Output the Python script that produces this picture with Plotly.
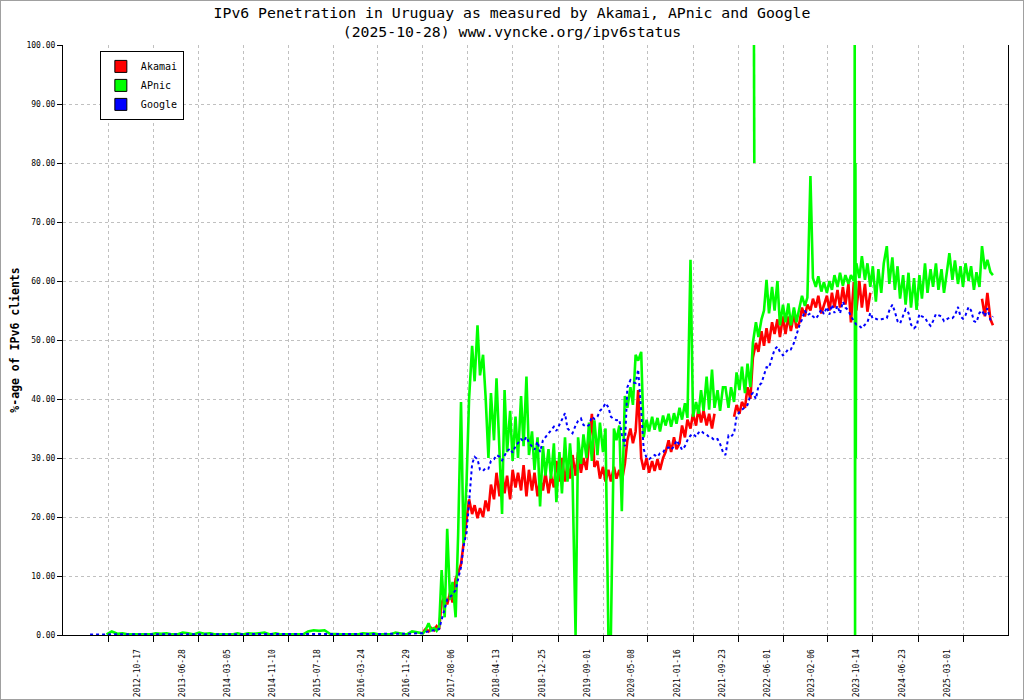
import plotly.graph_objects as go
import pandas as pd

# sampling dates (monthly before the take-off, twice a month after)
early_dates = pd.date_range("2011-11-01", "2016-11-01", freq="MS")
late_dates = pd.date_range("2016-12-01", "2025-08-15", freq="SMS")

# Google, % of IPv6 clients
google_early = [
    0.1, 0.1, 0.1, 0.1, 0.1, 0.1, 0.1, 0.1, 0.1, 0.1, 0.1, 0.1, 0.1, 0.1,
    0.1, 0.1, 0.1, 0.1, 0.1, 0.1, 0.1, 0.1, 0.1, 0.1, 0.1, 0.1,
    0.1, 0.1, 0.1, 0.1, 0.1, 0.1, 0.1, 0.1, 0.1, 0.1, 0.1, 0.1,
    0.1, 0.1, 0.1, 0.1, 0.1, 0.1, 0.1, 0.1, 0.1, 0.1, 0.1, 0.1,
    0.1, 0.1, 0.1, 0.1, 0.1, 0.1, 0.1, 0.2, 0.2, 0.2, 0.3,
]
google_late = [
    0.3, 0.5, 0.6, 0.8, 0.8, 0.9, 1.0, 2.6, 4.5, 6.0,
    6.4, 7.0, 7.6, 9.5, 11.5, 15.0, 17.5, 22.5, 29.0, 30.2,
    29.8, 28.0, 27.8, 28.3, 28.2, 29.5, 29.8, 30.5, 30.2, 29.6,
    30.5, 31.2, 31.6, 30.9, 32.0, 32.5, 33.2, 32.8, 33.6, 32.6,
    32.0, 31.4, 32.8, 31.0, 33.0, 33.5, 34.2, 34.8, 35.3, 34.6,
    35.8, 36.5, 37.6, 35.0, 34.6, 34.2, 35.5, 36.3, 36.7, 35.6,
    35.3, 35.6, 37.0, 36.6, 37.0, 38.0, 38.5, 39.3, 38.6, 37.0,
    36.6, 36.4, 36.5, 34.0, 32.0, 42.0, 43.2, 42.8, 42.7, 45.0,
    38.0, 31.5, 30.0, 29.8, 30.2, 30.5, 30.2, 30.8, 31.0, 31.6,
    31.8, 31.4, 32.0, 33.0, 32.2, 31.4, 32.0, 33.0, 33.8, 34.1,
    33.6, 34.3, 34.6, 34.2, 34.0, 33.5, 33.4, 33.0, 33.2, 32.4,
    31.0, 30.5, 33.8, 33.6, 34.2, 37.0, 37.8, 38.2, 38.6, 39.0,
    40.6, 41.0, 40.0, 42.2, 42.7, 44.2, 45.4, 45.3, 47.0, 48.4,
    48.9, 48.0, 47.4, 47.8, 48.5, 48.4, 49.5, 51.0, 52.5, 53.5,
    55.0, 54.2, 54.5, 54.0, 53.6, 54.2, 55.2, 54.4, 55.6, 54.3,
    56.0, 54.6, 55.8, 54.5, 56.5, 55.5, 55.0, 54.0, 53.3, 52.6,
    52.4, 52.0, 52.6, 53.0, 54.6, 53.6, 53.6, 53.4, 53.5, 53.6,
    53.7, 55.0, 56.0, 54.8, 53.2, 52.8, 54.0, 55.2, 54.6, 52.6,
    52.0, 52.4, 54.4, 54.0, 53.8, 53.0, 52.4, 53.2, 54.4, 54.2,
    54.0, 53.2, 53.5, 53.8, 53.7, 54.2, 55.6, 54.0, 53.6, 54.2,
    55.6, 55.0, 53.2, 53.0, 54.6, 55.0, 54.0, 55.4, 53.4, 54.0,
]

# Akamai (only from Dec 2016, gaps where no data)
akamai_late = [
    0.5, 1.0, 0.6, 1.2, 0.8, 1.5, 1.0, 5.5, 6.5, 5.2,
    7.2, 5.5, 9.5, 10.5, 12.0, 15.5, 19.5, 23.0, 20.5, 22.0,
    19.8, 21.5, 20.0, 22.8, 21.0, 25.5, 23.0, 27.5, 23.5, 28.0,
    24.0, 27.0, 23.0, 28.0, 25.0, 27.5, 24.5, 28.8, 23.5, 28.0,
    24.5, 27.5, 23.5, 26.5, 24.5, 27.5, 24.0, 27.0, 25.0, 29.5,
    26.0, 30.0, 26.0, 29.0, 26.5, 30.5, 27.0, 31.0, 27.5, 30.0,
    28.0, 32.0, 37.5, 28.5, 29.5, 26.5, 28.5, 26.0, 28.0, 26.0,
    28.5, 26.5, 28.0, 26.0, 29.0, 33.0, 35.0, 32.5, 34.5, 41.5,
    30.0, 28.0, 30.0, 27.5, 29.5, 27.8, 29.8, 28.0, 30.0, 31.0,
    33.0, 31.0, 33.5, 31.5, 32.5, 35.5, 33.5, 36.5, 35.0, 37.5,
    35.5, 38.5, 36.0, 38.0, 35.5, 37.5, 35.0, 37.5, None, None,
    None, None, None, None, 37.0, 39.0, 37.5, 39.5, 38.5, 42.0,
    40.0, 47.0, 49.5, 48.0, 51.5, 49.0, 52.0, 49.5, 53.0, 51.0,
    53.5, 50.5, 54.0, 51.0, 54.0, 51.5, 54.5, 52.0, 53.0, 55.5,
    54.0, 56.0, 55.0, 57.0, 55.5, 57.5, 54.5, 56.0, 57.5, 55.0,
    58.0, 55.5, 58.5, 55.5, 59.0, 56.0, 59.5, 53.0, 59.8, 55.0,
    60.0, 55.5, 59.5, 54.8, 58.0, None, None, None, None, None,
    None, None, None, None, None, None, None, None, None, None,
    None, None, None, None, None, None, None, None, None, None,
    None, None, None, None, None, None, None, None, None, None,
    None, None, None, None, None, 57.0, 54.0, 58.0, 53.5, 52.5,
]

# APnic
apnic_early = [
    None, None, None, 0.1, 0.6, 0.2, 0.3, 0.1, 0.1, 0.1, 0.1, 0.1, 0.3, 0.2,
    0.3, 0.1, 0.1, 0.4, 0.3, 0.1, 0.4, 0.2, 0.3, 0.1, 0.1, 0.1,
    0.1, 0.3, 0.1, 0.3, 0.2, 0.3, 0.4, 0.1, 0.3, 0.1, 0.1, 0.1,
    0.1, 0.1, 0.6, 0.8, 0.7, 0.8, 0.2, 0.1, 0.1, 0.1, 0.1, 0.1,
    0.3, 0.2, 0.3, 0.1, 0.1, 0.1, 0.4, 0.2, 0.1, 0.6, 0.4,
]
apnic_late = [
    0.3, 0.8, 2.0, 0.8, 1.2, 0.7, 1.4, 11.0, 3.0, 18.0,
    6.0, 9.0, 3.0, 17.0, 39.5, 15.5, 26.0, 40.0, 49.0, 43.0,
    52.5, 44.0, 47.5, 40.5, 30.0, 41.0, 33.0, 43.5, 32.0, 20.5,
    41.5, 31.0, 38.0, 29.5, 37.0, 30.0, 40.5, 32.0, 43.8, 30.5,
    34.5, 28.0, 33.5, 21.8, 32.0, 27.0, 31.5, 26.5, 32.5, 22.5,
    31.0, 24.0, 33.5, 26.0, 32.5, 27.0, 0.0, 33.5, 29.0, 34.0,
    30.0, 36.0, 29.5, 36.4, 30.5, 36.0, 31.0, 35.0, 0.0, 0.0,
    35.0, 33.0, 35.5, 21.0, 40.5, 38.5, 42.0, 39.0, 47.5, 46.5,
    48.0, 33.5, 36.5, 34.5, 37.0, 34.8, 36.8, 34.5, 37.2, 35.5,
    37.5, 35.3, 37.6, 35.8, 38.5, 36.5, 39.3, 36.8, 63.6, 37.0,
    39.5, 37.5, 41.5, 38.0, 43.8, 38.2, 45.0, 38.5, 41.5, 38.0,
    42.0, 42.0, 38.5, 42.0, 39.5, 44.5, 41.5, 45.5, 41.0, 46.0,
    42.0, 49.5, 53.0, 50.5, 53.5, 55.0, 60.2, 54.5, 59.0, 55.0,
    60.0, 52.5, 56.0, 53.0, 56.2, 52.5, 55.5, 53.0, 55.5, 57.5,
    55.8, 57.2, 77.8, 60.5, 59.0, 60.8, 58.2, 59.8, 58.0, 60.0,
    58.5, 61.0, 59.0, 61.4, 59.2, 61.0, 59.5, 61.0, 60.0, 63.0,
    60.5, 64.2, 60.2, 63.0, 59.0, 62.5, 56.5, 62.0, 58.0, 63.0,
    65.9, 59.5, 64.0, 58.5, 62.5, 57.0, 61.0, 56.0, 61.4, 55.5,
    60.5, 55.1, 61.0, 57.0, 63.0, 58.0, 62.0, 59.0, 63.0, 58.5,
    62.0, 58.0, 61.5, 64.7, 60.2, 63.5, 59.5, 62.5, 59.0, 63.0,
    60.0, 62.5, 58.5, 61.5, 59.0, 65.9, 62.0, 63.6, 61.5, 61.0,
]

# isolated APnic outliers
apnic_spike_dates = ["2021-12-21", "2021-12-23", "2021-12-25",
                     "2023-07-04", "2023-07-06", "2023-07-08",
                     "2023-07-10", "2023-07-12", "2023-07-14"]
apnic_spike_vals = [100, 80, None, 60, 100, 0, 80, 30, 60]

tick_dates = ["2012-02-09", "2012-10-17", "2013-06-28", "2014-03-05", "2014-11-10",
              "2015-07-18", "2016-03-24", "2016-11-29", "2017-08-06", "2018-04-13",
              "2018-12-25", "2019-09-01", "2020-05-08", "2021-01-16", "2021-09-23",
              "2022-06-01", "2023-02-06", "2023-10-14", "2024-06-23", "2025-03-01"]
tick_text = [""] + tick_dates[1:]

MONO = "DejaVu Sans Mono"
colors = {"Akamai": "#ff0000", "APnic": "#00ff00", "Google": "#0000ff"}

all_dates = list(early_dates) + list(late_dates)

fig = go.Figure()

# legend entries drawn as little boxes
for name in ["Akamai", "APnic", "Google"]:
    fig.add_trace(go.Bar(x=[None], y=[None], name=name,
                         marker=dict(color=colors[name], line=dict(color="black", width=1))))

fig.add_trace(go.Scatter(x=list(late_dates), y=akamai_late, mode="lines",
                         line=dict(color=colors["Akamai"], width=2.6),
                         showlegend=False, connectgaps=False))
fig.add_trace(go.Scatter(x=all_dates, y=apnic_early + apnic_late, mode="lines",
                         line=dict(color=colors["APnic"], width=2.6),
                         showlegend=False))
fig.add_trace(go.Scatter(x=apnic_spike_dates, y=apnic_spike_vals, mode="lines",
                         line=dict(color=colors["APnic"], width=2.6),
                         showlegend=False, connectgaps=False))
fig.add_trace(go.Scatter(x=all_dates, y=google_early + google_late, mode="lines",
                         line=dict(color=colors["Google"], width=2, dash="dot"),
                         showlegend=False))

fig.update_layout(
    width=1024, height=700,
    margin=dict(l=63, r=16, t=45, b=65, autoexpand=False),
    plot_bgcolor="white", paper_bgcolor="white",
    font=dict(family=MONO, color="black"),
    title=dict(
        text="IPv6 Penetration in Uruguay as measured by Akamai, APnic and Google"
             "<br>(2025-10-28) www.vyncke.org/ipv6status",
        x=0.5, xref="container", xanchor="center",
        y=1 - 18 / 700, yref="container", yanchor="bottom",
        font=dict(family=MONO, size=14.8, color="black"),
        automargin=False,
    ),
    legend=dict(
        x=0.039, y=0.99, xanchor="left", yanchor="top",
        bgcolor="white", bordercolor="black", borderwidth=1,
        font=dict(family=MONO, size=10), tracegroupgap=0, itemwidth=30,
    ),
    showlegend=True,
)

fig.update_xaxes(
    type="date", automargin=False,
    range=["2011-06-03", "2025-11-07"],
    tickvals=tick_dates, ticktext=tick_text,
    tickangle=-90, ticklabelshift=-16, ticklabelstandoff=4,
    tickfont=dict(family=MONO, size=8),
    ticks="outside", ticklen=6, tickcolor="black",
    showline=True, linecolor="black", linewidth=1,
    showgrid=True, gridcolor="#c0c0c0", griddash="dot", gridwidth=1,
    zeroline=False,
)
fig.update_yaxes(
    automargin=False,
    range=[0, 100], dtick=10, tickformat=".2f",
    tickfont=dict(family=MONO, size=8),
    ticks="outside", ticklen=5, tickcolor="black",
    showline=True, mirror=True, linecolor="black", linewidth=1,
    showgrid=True, gridcolor="#c0c0c0", griddash="dot", gridwidth=1,
    zeroline=False,
    title=dict(text="<b>%-age of IPv6 clients</b>", standoff=4,
               font=dict(family=MONO, size=11.5)),
)

# grey frame around the whole picture
fig.add_shape(type="rect", xref="paper", yref="paper",
              x0=-63 / 945, x1=1 + 16 / 945, y0=-65 / 590, y1=1 + 45 / 590,
              line=dict(color="#a0a0a0", width=2), layer="below")

# the page's default body margin would push the figure 8px off the corner
fig.write_html("out.html", config={"displayModeBar": False},
               post_script="document.body.style.margin='0px';")
